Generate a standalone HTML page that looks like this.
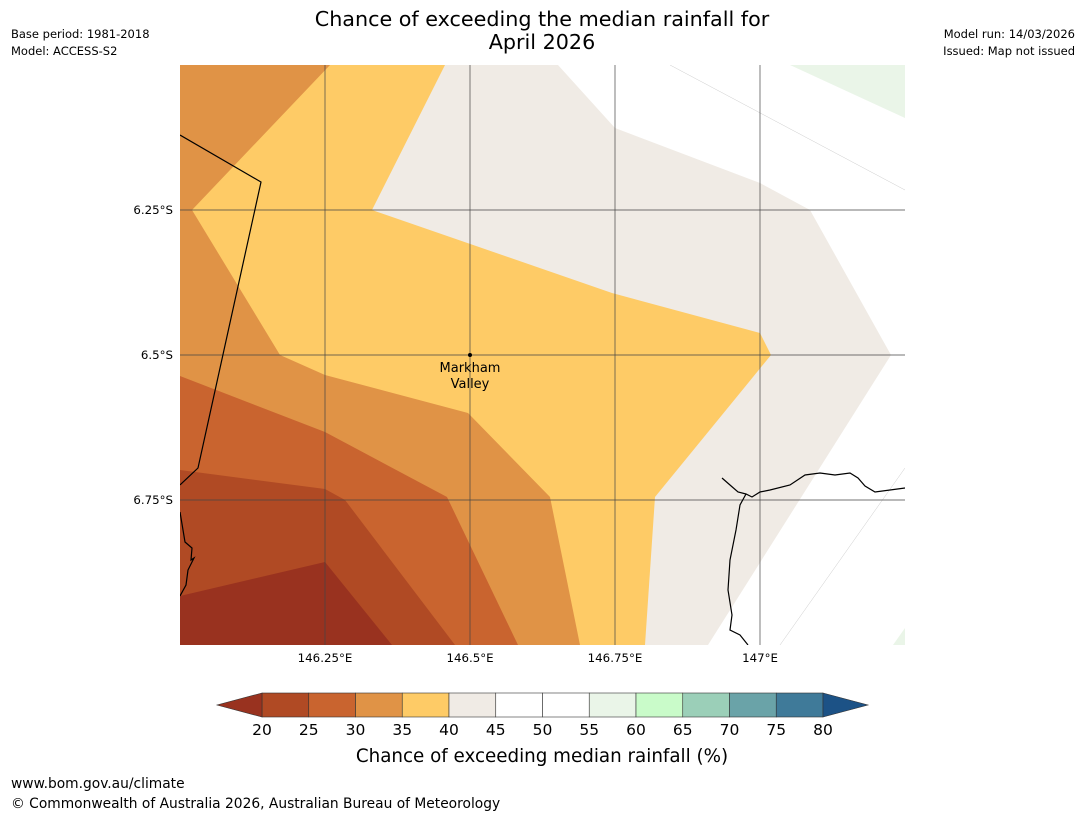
<!DOCTYPE html>
<html><head><meta charset="utf-8"><style>
body{margin:0;background:#fff;font-family:"Liberation Sans","DejaVu Sans",sans-serif;}
svg text{font-family:"DejaVu Sans","Liberation Sans",sans-serif;}
</style></head><body>
<svg width="1085" height="816" viewBox="0 0 1085 816" xmlns="http://www.w3.org/2000/svg">
<text x="542" y="26" font-size="20.7" text-anchor="middle">Chance of exceeding the median rainfall for</text>
<text x="542" y="49" font-size="20.7" text-anchor="middle">April 2026</text>
<text x="11" y="38" font-size="11.5">Base period: 1981-2018</text>
<text x="11" y="55" font-size="11.5">Model: ACCESS-S2</text>
<text x="1075" y="38" font-size="11.5" text-anchor="end">Model run: 14/03/2026</text>
<text x="1075" y="55" font-size="11.5" text-anchor="end">Issued: Map not issued</text>
<defs><clipPath id="mc"><rect x="180" y="65" width="725" height="580"/></clipPath></defs>
<g clip-path="url(#mc)">
<rect x="180" y="65" width="725" height="580" fill="#f0ebe5"/>
<polygon points="558,65 615,128 760,183 810,210 891,355 708,645 910,645 910,65" fill="#fff"/>
<polygon points="790,65 905,65 905,118" fill="#eaf5e8"/>
<polygon points="893,645 905,628 905,645" fill="#eaf5e8"/>
<polygon points="180,65 445,65 372,210 612,293 760,333 771,355 655,497 645,645 180,645" fill="#fecb66"/>
<polygon points="180,65 330,65 192,210 280,355 325,375 468,413 550,497 580,645 180,645" fill="#e09346"/>
<polygon points="180,376 325,432 447,497 518,645 180,645" fill="#c9642f"/>
<polygon points="180,470 325,489 345,500 455,645 180,645" fill="#b04a24"/>
<polygon points="180,596 325,562 392,645 180,645" fill="#99321f"/>
<g stroke="#ccc" stroke-width="0.5" fill="none">
<line x1="670" y1="65" x2="905" y2="190"/><line x1="780" y1="645" x2="905" y2="468"/>
</g>
<g stroke="#444" stroke-width="0.7">
<line x1="325" y1="65" x2="325" y2="645"/><line x1="470" y1="65" x2="470" y2="645"/>
<line x1="615" y1="65" x2="615" y2="645"/><line x1="760" y1="65" x2="760" y2="645"/>
<line x1="180" y1="210" x2="905" y2="210"/><line x1="180" y1="355" x2="905" y2="355"/>
<line x1="180" y1="500" x2="905" y2="500"/>
</g>
<polyline points="180,135 261,182 198,468 180,485" fill="none" stroke="#000" stroke-width="1.2"/>
<polyline points="180,512 183,530 185,542 192,548 191,560 194,558 188,570 186,585 180,596" fill="none" stroke="#000" stroke-width="1.2"/>
<polyline points="722,478 730,485 738,492 746,494 752,497 760,492 770,490 790,485 805,475 820,473 835,475 850,473 858,478 865,486 875,492 890,490 905,488" fill="none" stroke="#000" stroke-width="1.2"/>
<polyline points="746,494 740,505 736,530 730,560 728,590 732,615 730,630 740,635 748,645" fill="none" stroke="#000" stroke-width="1.2"/>
<circle cx="470" cy="355" r="2" fill="#000"/>
<text x="470" y="372" font-size="13" text-anchor="middle">Markham</text>
<text x="470" y="388" font-size="13" text-anchor="middle">Valley</text>
</g>
<g font-size="11.8">
<text x="173" y="214" text-anchor="end">6.25°S</text>
<text x="173" y="359" text-anchor="end">6.5°S</text>
<text x="173" y="504" text-anchor="end">6.75°S</text>
<text x="325" y="662" text-anchor="middle">146.25°E</text>
<text x="470" y="662" text-anchor="middle">146.5°E</text>
<text x="615" y="662" text-anchor="middle">146.75°E</text>
<text x="760" y="662" text-anchor="middle">147°E</text>
</g>
<g id="cbar"></g>
<text x="542" y="762" font-size="18.3" text-anchor="middle">Chance of exceeding median rainfall (%)</text>
<text x="11" y="788" font-size="13.8">www.bom.gov.au/climate</text>
<text x="11" y="808" font-size="13.8">© Commonwealth of Australia 2026, Australian Bureau of Meteorology</text>
</svg>
<script>
const binColors=["#b04a24","#c9642f","#e09346","#fecb66","#f0ebe5","#ffffff","#ffffff","#eaf5e8","#c9fbc9","#9bcfb8","#6aa3a8","#3f7a99"];
const tickLabels=[20,25,30,35,40,45,50,55,60,65,70,75,80];
const extendColors=["#99321f","#1c5286"];
const NS="http://www.w3.org/2000/svg";
const g=document.getElementById('cbar');
const x0=262,x1=823,y0=693,y1=717;
const sx=v=>x0+(v-20)/(80-20)*(x1-x0);
function mk(t,a){const e=document.createElementNS(NS,t);for(const k in a)e.setAttribute(k,a[k]);g.appendChild(e);return e;}
binColors.forEach((c,i)=>{
 const r=mk('rect',{x:sx(tickLabels[i]),y:y0,width:sx(tickLabels[i+1])-sx(tickLabels[i]),height:y1-y0,fill:c,stroke:'#333','stroke-width':0.6});
 
 
});
const l=mk('polygon',{points:`${x0},${y0} ${x0-45},${(y0+y1)/2} ${x0},${y1}`,fill:extendColors[0],stroke:'#333','stroke-width':0.6});


const r=mk('polygon',{points:`${x1},${y0} ${x1+45},${(y0+y1)/2} ${x1},${y1}`,fill:extendColors[1],stroke:'#333','stroke-width':0.6});


tickLabels.forEach(v=>{
 const t=mk('text',{x:sx(v),y:735,'font-size':15.5,'text-anchor':'middle'});
 t.textContent=v;
 
 
});
</script>
</body></html>
